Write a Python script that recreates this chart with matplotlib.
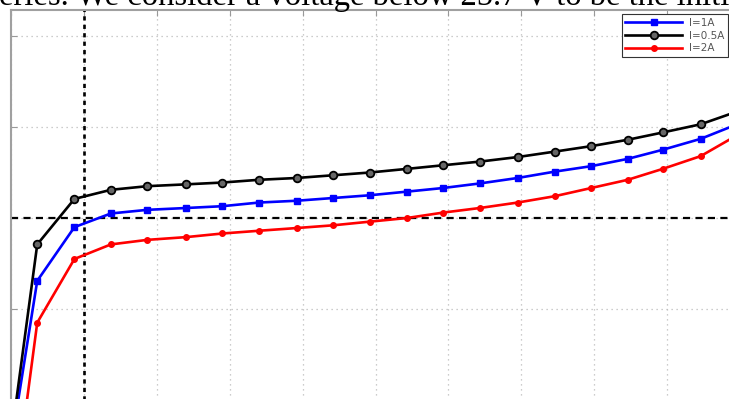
import matplotlib
matplotlib.use("Agg")
import matplotlib.pyplot as plt

# ---- data ----
x_vals = [0.0, 0.36, 0.87, 1.37, 1.87, 2.40, 2.90, 3.40, 3.92, 4.42, 4.92,
          5.43, 5.93, 6.43, 6.95, 7.46, 7.96, 8.46, 8.94, 9.46, 9.96]
v_1A = [25.450, 25.631, 25.690, 25.705, 25.709, 25.711, 25.713, 25.717, 25.719,
        25.722, 25.725, 25.729, 25.733, 25.738, 25.744, 25.751, 25.757, 25.765,
        25.775, 25.787, 25.803]
v_05A = [25.456, 25.671, 25.721, 25.731, 25.735, 25.737, 25.739, 25.742, 25.744,
         25.747, 25.750, 25.754, 25.758, 25.762, 25.767, 25.773, 25.779, 25.786,
         25.794, 25.803, 25.817]
v_2A = [25.367, 25.585, 25.655, 25.671, 25.676, 25.679, 25.683, 25.686, 25.689,
        25.692, 25.696, 25.700, 25.706, 25.711, 25.717, 25.724, 25.733, 25.742,
        25.754, 25.768, 25.791]
labels = ["I=1A", "I=0.5A", "I=2A"]
threshold_v = 25.7
threshold_x = 1.0
x_ticks = list(range(0, 12))
y_ticks = [25.4, 25.5, 25.6, 25.7, 25.8, 25.9]
caption = "eries. We consider a voltage below 25.7 V to be the initi"

W, H = 729, 399
fig = plt.figure(figsize=(W / 100, H / 100), dpi=100)

# axes geometry in pixels (extends beyond the visible crop)
xlim = (0, 11)
ylim = (25.35, 25.9286)
left_px, top_px = 11, 10
px_per_x = 72.9
px_per_y = 910.0
w_px = (xlim[1] - xlim[0]) * px_per_x
h_px = (ylim[1] - ylim[0]) * px_per_y
ax = fig.add_axes([left_px / W, 1 - (top_px + h_px) / H, w_px / W, h_px / H])
ax.set_xlim(*xlim)
ax.set_ylim(*ylim)

ax.set_xticks(x_ticks)
ax.set_yticks(y_ticks)
ax.tick_params(direction="in", top=True, right=True, length=4, width=0.8,
               color="#999999", labelleft=False, labelbottom=False)
ax.grid(True, color="#bcbcbc", linestyle=(0, (1, 3)), linewidth=0.9)
for s in ax.spines.values():
    s.set_color("#a0a0a0")
    s.set_linewidth(1.5)

ax.axhline(threshold_v, color="black", linewidth=1.6, linestyle=(0, (3.2, 2.4)), zorder=2)
ax.axvline(threshold_x, color="black", linewidth=1.9, linestyle=(0, (1.6, 1.6)), zorder=2)

ax.plot(x_vals, v_1A, color="#0000ff", linewidth=1.9, marker="s", markersize=5,
        markerfacecolor="#0000ff", label=labels[0], zorder=3)
ax.plot(x_vals, v_05A, color="black", linewidth=1.9, marker="o", markersize=5.5,
        markerfacecolor="#666666", markeredgewidth=1.3, label=labels[1], zorder=4)
ax.plot(x_vals, v_2A, color="#ff0000", linewidth=1.9, marker="o", markersize=4,
        markerfacecolor="#ff0000", label=labels[2], zorder=5)

leg = ax.legend(loc="upper right", bbox_to_anchor=(728 / W, 1 - 14 / H),
                bbox_transform=fig.transFigure, borderaxespad=0, fontsize=7.5,
                handlelength=5.4, handletextpad=0.7, labelspacing=0.28,
                borderpad=0.35, fancybox=False, framealpha=1, edgecolor="#333333")
leg.get_frame().set_linewidth(0.8)
for t in leg.get_texts():
    t.set_color("#555555")

fig.text(-1 / W, 1 - 5 / H, caption, ha="left", va="baseline", fontsize=23.5,
         family="Liberation Serif", color="black")

fig.savefig("out.png", dpi=100)
